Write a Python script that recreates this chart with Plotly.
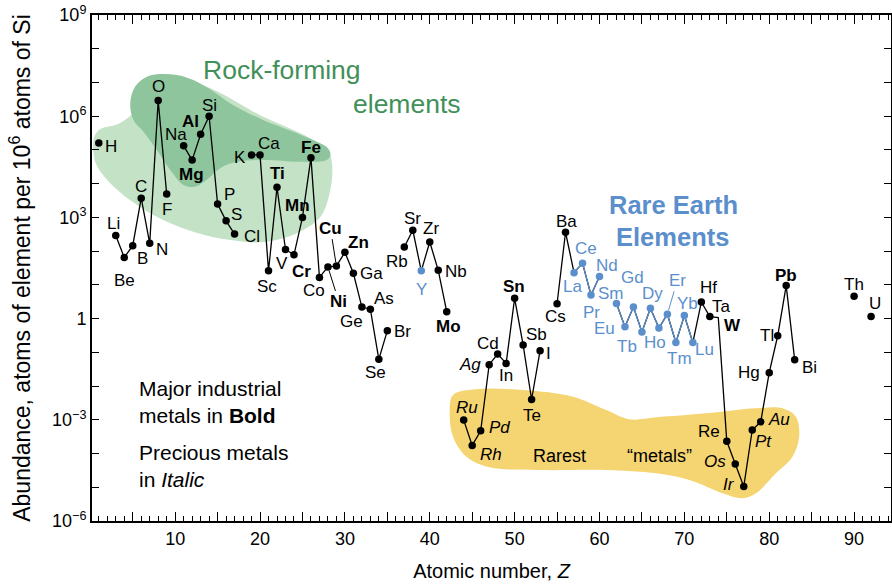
import math
import plotly.graph_objects as go

# ---------------- data ----------------
SYMBOLS = ["H", "Li", "Be", "B", "C", "N", "O", "F", "Na", "Mg", "Al", "Si", "P", "S", "Cl",
           "K", "Ca", "Sc", "Ti", "V", "Cr", "Mn", "Fe", "Co", "Ni", "Cu", "Zn", "Ga", "Ge",
           "As", "Se", "Br", "Rb", "Sr", "Y", "Zr", "Nb", "Mo", "Ru", "Rh", "Pd", "Ag", "Cd",
           "In", "Sn", "Sb", "Te", "I", "Cs", "Ba", "La", "Ce", "Pr", "Nd", "Sm", "Eu", "Gd",
           "Tb", "Dy", "Ho", "Er", "Tm", "Yb", "Lu", "Hf", "Ta", "W", "Re", "Os", "Ir", "Pt",
           "Au", "Hg", "Tl", "Pb", "Bi", "Th", "U"]
Z = [1, 3, 4, 5, 6, 7, 8, 9, 11, 12, 13, 14, 15, 16, 17,
     19, 20, 21, 22, 23, 24, 25, 26, 27, 28, 29, 30, 31, 32,
     33, 34, 35, 37, 38, 39, 40, 41, 42, 44, 45, 46, 47, 48,
     49, 50, 51, 52, 53, 55, 56, 57, 58, 59, 60, 62, 63, 64,
     65, 66, 67, 68, 69, 70, 71, 72, 73, 74, 75, 76, 77, 78,
     79, 80, 81, 82, 83, 90, 92]
ABUNDANCE = [1.6e5, 290, 65, 145, 3700, 170, 2.9e6, 4900, 1.32e5, 5.0e4, 2.9e5, 1.0e6, 2500, 790, 320,
             7.1e4, 7.1e4, 26, 7800, 112, 78, 1000, 5.9e4, 16.6, 34, 36, 93, 22, 2.2,
             1.9, 0.062, 0.44, 132, 417, 26, 186, 27, 1.6, 9.8e-4, 1.74e-4, 4.7e-4, 0.043, 0.089,
             0.047, 4.0, 0.166, 0.004, 0.112, 2.75, 363, 23, 44, 5.0, 17.8, 2.8, 0.575, 2.2,
             0.40, 2.04, 0.525, 1.35, 0.195, 1.23, 0.195, 3.1, 1.15, 1.07, 2.3e-4, 4.9e-5, 1.05e-5, 5.0e-4,
             8.7e-4, 0.025, 0.31, 9.5, 0.06, 4.6, 1.15]

MAJOR_INDUSTRIAL = {"Mg", "Al", "Ti", "Cr", "Mn", "Fe", "Ni", "Cu", "Zn", "Mo", "Sn", "W", "Pb"}
PRECIOUS = {"Ru", "Rh", "Pd", "Ag", "Os", "Ir", "Pt", "Au"}
RARE_EARTH = {"Y", "La", "Ce", "Pr", "Nd", "Sm", "Eu", "Gd", "Tb", "Dy", "Ho", "Er", "Tm", "Yb", "Lu"}
LANTHANIDE_Z = (57, 71)

X_TICKS = list(range(0, 95, 5))
Y_DECADES = list(range(-6, 10))

# region outlines (Z, log10 abundance)
LIGHT_GREEN = [(0.47, 5.38), (1.18, 5.62), (3.29, 5.77), (5.06, 6.10), (6.71, 6.93), (12.9, 6.93),
               (20.0, 6.03), (25.9, 5.35), (28.0, 4.99), (28.5, 4.55), (28.2, 3.72), (27.1, 3.01),
               (24.4, 2.54), (20.4, 2.27), (16.5, 2.33), (12.6, 2.54), (8.6, 2.92), (4.7, 3.51),
               (2.0, 4.11), (0.59, 4.64)]
DARK_GREEN = [(5.09, 5.89), (4.71, 6.39), (5.29, 6.88), (6.67, 7.17), (8.24, 7.25), (10.2, 7.22),
              (12.15, 7.07), (14.5, 6.73), (16.8, 6.33), (20.35, 5.89), (23.9, 5.54), (26.7, 5.24),
              (28.0, 5.05), (28.3, 4.85), (27.85, 4.70), (24.3, 4.65), (20.8, 4.70), (17.3, 4.65),
              (15.3, 4.46), (13.7, 4.11), (12.35, 3.91), (10.98, 3.96), (9.41, 4.41), (7.85, 5.0),
              (6.27, 5.54)]
YELLOW = [(42.74, -2.265), (45.49, -2.096), (50.98, -2.117), (56.86, -2.315), (60.79, -2.71),
          (63.53, -2.985), (66.67, -2.926), (72.55, -2.808), (78.44, -2.659), (81.56, -2.659),
          (83.14, -2.908), (83.53, -3.501), (82.74, -4.094), (80.79, -4.586), (78.44, -5.179),
          (76.86, -5.328), (74.51, -5.179), (70.59, -4.784), (66.67, -4.586), (60.79, -4.488),
          (52.94, -4.488), (47.06, -4.408), (44.32, -4.094), (42.74, -3.501), (42.35, -2.808)]

# ---------------- style ----------------
FONT = "Liberation Sans, Arial, Helvetica, sans-serif"
BLUE = "#5b8fcc"
GREEN_TXT = "#3f9059"
LIGHT_GREEN_COL = "#c3e2c6"
DARK_GREEN_COL = "#8ec59c"
YELLOW_COL = "#f5d472"

# label offsets in screen pixels (dx right, dy down) relative to each point
LABEL_OFF = {
    "H": (12, 3), "Li": (-2, -12), "Be": (0, 23), "B": (10, 13), "C": (0, -12), "N": (12, 6),
    "O": (0, -14), "F": (0, 15), "Na": (-8, -11), "Mg": (-1, 14), "Al": (-10, -13), "Si": (0, -11),
    "P": (12, -9), "S": (10, -6), "Cl": (17, 2), "K": (-12, 3), "Ca": (9, -11), "Sc": (-2, 16),
    "Ti": (0, -14), "V": (-3, 14), "Cr": (8, 17), "Mn": (-5, -12), "Fe": (0, -10), "Co": (-5, 13),
    "Zn": (14, -10), "Ga": (18, 0), "Ge": (-10, 14), "As": (14, -11), "Se": (-3, 13), "Br": (15, 1),
    "Rb": (-7, 14), "Sr": (0, -12), "Y": (0, 19), "Zr": (1, -14), "Nb": (18, 1), "Mo": (2, 15),
    "Ru": (3, -13), "Rh": (19, 9), "Pd": (19, -3), "Ag": (-19, 0), "Cd": (-10, -11), "In": (0, 12),
    "Sn": (-1, -12), "Sb": (13, -10), "Te": (0, 16), "I": (8, 3), "Cs": (-2, 13), "Ba": (1, -11),
    "La": (-2, 14), "Ce": (3, -15), "Pr": (0, 17), "Nd": (8, -11), "Sm": (-5, -10), "Eu": (-20, 2),
    "Gd": (-1, -30), "Tb": (-15, 14), "Dy": (2, -15), "Ho": (-4, 14), "Tm": (4, 16), "Yb": (3, -12),
    "Lu": (12, 7), "Hf": (7, -15), "Ta": (12, -10), "W": (14, 8), "Re": (-18, -10), "Os": (-20, -2),
    "Ir": (-15, -2), "Pt": (11, 12), "Au": (18, -2), "Hg": (-20, 0), "Tl": (-11, 0), "Pb": (0, -10),
    "Bi": (15, 8), "Th": (0, -12), "U": (4, -13),
}
LEADER_OFF = {"Cu": (-6, -38), "Ni": (11, 35), "Er": (10, -34)}

assert len(SYMBOLS) == len(Z) == len(ABUNDANCE)

fig = go.Figure()


def add_region(pts, color):
    fig.add_trace(go.Scatter(
        x=[p[0] for p in pts] + [pts[0][0]],
        y=[10 ** p[1] for p in pts] + [10 ** pts[0][1]],
        mode="lines", fill="toself", fillcolor=color,
        line=dict(color=color, width=0, shape="spline", smoothing=1.0),
        hoverinfo="skip", showlegend=False))


add_region(LIGHT_GREEN, LIGHT_GREEN_COL)
add_region(DARK_GREEN, DARK_GREEN_COL)
add_region(YELLOW, YELLOW_COL)

# connecting line with gaps where elements are missing
lx, ly = [], []
for i, (z, v) in enumerate(zip(Z, ABUNDANCE)):
    if i > 0 and z - Z[i - 1] > 1:
        lx.append(None)
        ly.append(None)
    lx.append(z)
    ly.append(v)
fig.add_trace(go.Scatter(x=lx, y=ly, mode="lines", line=dict(color="black", width=1.3),
                         connectgaps=False, hoverinfo="skip", showlegend=False))

# blue segments between lanthanides
bx, by = [], []
for i, (z, v) in enumerate(zip(Z, ABUNDANCE)):
    if LANTHANIDE_Z[0] <= z <= LANTHANIDE_Z[1]:
        if bx and bx[-1] is not None and z - bx[-1] > 1:
            bx.append(None)
            by.append(None)
        bx.append(z)
        by.append(v)
fig.add_trace(go.Scatter(x=bx, y=by, mode="lines", line=dict(color=BLUE, width=1.3),
                         connectgaps=False, hoverinfo="skip", showlegend=False))

colors = [BLUE if s in RARE_EARTH else "black" for s in SYMBOLS]
sizes = [0 if s == "W" else 7.5 for s in SYMBOLS]
fig.add_trace(go.Scatter(x=Z, y=ABUNDANCE, mode="markers",
                         marker=dict(color=colors, size=sizes, opacity=1, line=dict(width=0)),
                         text=SYMBOLS, hoverinfo="text", showlegend=False))

annotations = []
for s, z, v in zip(SYMBOLS, Z, ABUNDANCE):
    t = s
    if s in MAJOR_INDUSTRIAL:
        t = "<b>%s</b>" % s
    elif s in PRECIOUS:
        t = "<i>%s</i>" % s
    col = BLUE if s in RARE_EARTH else "black"
    font = dict(family=FONT, size=17, color=col)
    if s in LEADER_OFF:
        dx, dy = LEADER_OFF[s]
        annotations.append(dict(x=z, y=math.log10(v), xref="x", yref="y", text=t, font=font,
                                showarrow=True, arrowhead=0, arrowwidth=1, arrowcolor=col,
                                ax=dx, ay=dy, standoff=4))
    else:
        dx, dy = LABEL_OFF.get(s, (0, -12))
        annotations.append(dict(x=z, y=math.log10(v), xref="x", yref="y", text=t, font=font,
                                showarrow=False, xshift=dx, yshift=-dy,
                                xanchor="center", yanchor="middle"))

# descriptive texts
annotations += [
    dict(x=22.6, y=7.37, text="Rock-forming", font=dict(family=FONT, size=26.5, color=GREEN_TXT)),
    dict(x=37.3, y=6.36, text="elements", font=dict(family=FONT, size=26.5, color=GREEN_TXT)),
    dict(x=68.7, y=3.37, text="<b>Rare Earth</b>", font=dict(family=FONT, size=25.5, color=BLUE)),
    dict(x=68.6, y=2.42, text="<b>Elements</b>", font=dict(family=FONT, size=25.5, color=BLUE)),
    dict(x=55.3, y=-4.07, text="Rarest", font=dict(family=FONT, size=18, color="black")),
    dict(x=67.1, y=-4.07, text="\u201cmetals\u201d", font=dict(family=FONT, size=18, color="black")),
    dict(x=5.5, y=-2.47, text="Major industrial<br>metals in <b>Bold</b>", xanchor="left", align="left",
         font=dict(family=FONT, size=21, color="black")),
    dict(x=5.5, y=-4.37, text="Precious metals<br>in <i>Italic</i>", xanchor="left", align="left",
         font=dict(family=FONT, size=21, color="black")),
]
for a in annotations[-8:]:
    a.update(xref="x", yref="y", showarrow=False)
    a.setdefault("xanchor", "center")
    a.setdefault("yanchor", "middle")


def ytick_text(k):
    if k % 3:
        return ""
    if k == 0:
        return "1"
    return "10<sup>%s</sup>" % (str(k).replace("-", "\u2212"))


fig.update_layout(
    width=892, height=585,
    margin=dict(l=92, r=1, t=15, b=64, autoexpand=False),
    paper_bgcolor="white", plot_bgcolor="white",
    font=dict(family=FONT, size=18, color="black"),
    annotations=annotations,
    showlegend=False,
)
fig.update_xaxes(
    range=[0.2, 94.35], showgrid=False, zeroline=False, automargin=False,
    showline=True, linecolor="black", linewidth=2, mirror="ticks",
    ticks="inside", ticklen=9, tickwidth=1.2, tickcolor="black",
    tickmode="array", tickvals=X_TICKS,
    ticktext=[str(v) if v % 10 == 0 and v > 0 else "" for v in X_TICKS],
    tickfont=dict(family=FONT, size=18),
    minor=dict(ticks="inside", ticklen=5, tickwidth=1, tickcolor="black", tickmode="linear", tick0=0, dtick=1),
    title=dict(text="Atomic number, <i>Z</i>", font=dict(family=FONT, size=20), standoff=16),
)
fig.update_yaxes(
    type="log", range=[-6, 9], showgrid=False, zeroline=False, automargin=False,
    showline=True, linecolor="black", linewidth=2, mirror="ticks",
    ticks="inside", ticklen=7, tickwidth=1.2, tickcolor="black",
    tickmode="array", tickvals=[10 ** k for k in Y_DECADES],
    ticktext=[ytick_text(k) for k in Y_DECADES],
    tickfont=dict(family=FONT, size=18),
    title=dict(text="Abundance, atoms of element per 10<sup>6</sup> atoms of Si",
               font=dict(family=FONT, size=23), standoff=15),
)

fig.write_html("out.html", config={"displayModeBar": False},
               post_script="document.body.style.margin='0';")
